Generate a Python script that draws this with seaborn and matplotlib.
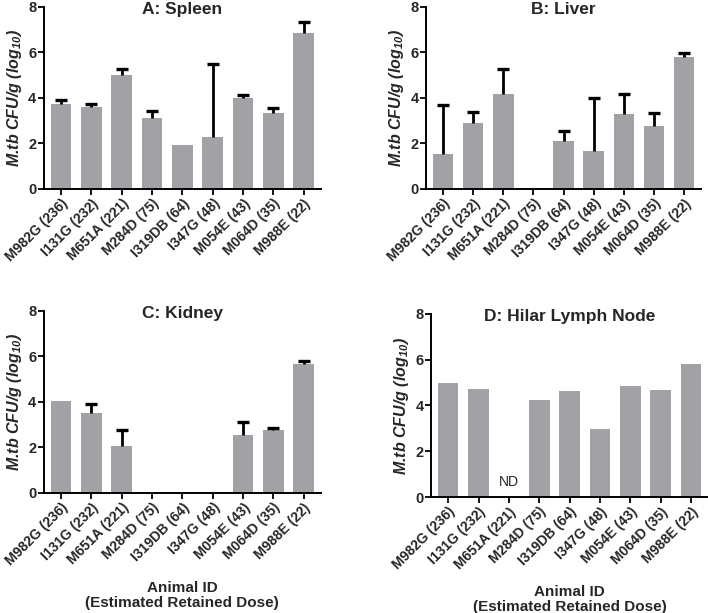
import numpy as np
import pandas as pd
import matplotlib
matplotlib.use("Agg")
import matplotlib.pyplot as plt
import seaborn as sns

# data (log10 CFU/g); nan = not detected / no error bar
animals = ["M982G (236)", "I131G (232)", "M651A (221)", "M284D (75)", "I319DB (64)",
           "I347G (48)", "M054E (43)", "M064D (35)", "M988E (22)"]

spleen = [3.71, 3.60, 5.00, 3.12, 1.92, 2.27, 3.99, 3.33, 6.84]
spleen_err = [3.90, 3.74, 5.26, 3.40, np.nan, 5.49, 4.13, 3.55, 7.31]

liver = [1.51, 2.89, 4.15, np.nan, 2.11, 1.66, 3.28, 2.74, 5.80]
liver_err = [3.68, 3.38, 5.26, np.nan, 2.55, 3.99, 4.15, 3.34, 5.95]

kidney = [4.02, 3.52, 2.04, np.nan, np.nan, np.nan, 2.54, 2.77, 5.65]
kidney_err = [np.nan, 3.90, 2.76, np.nan, np.nan, np.nan, 3.13, 2.84, 5.79]

lymph = [4.98, 4.73, np.nan, 4.23, 4.64, 2.98, 4.85, 4.66, 5.81]
lymph_err = [np.nan] * 9

titles = ["A: Spleen", "B: Liver", "C: Kidney", "D: Hilar Lymph Node"]

sns.set_style("ticks")
plt.rcParams["font.family"] = ["Liberation Sans", "DejaVu Sans"]
plt.rcParams["mathtext.fontset"] = "custom"
plt.rcParams["mathtext.rm"] = "Liberation Sans:italic:bold"
plt.rcParams["mathtext.it"] = "Liberation Sans:italic:bold"
plt.rcParams["mathtext.bf"] = "Liberation Sans:italic:bold"

BAR_COLOR = "#a2a2a6"

fig = plt.figure(figsize=(7.08, 6.13), dpi=100)
# axes boxes [left, bottom, width, height] in figure fraction
boxes = [
    [0.062, 0.692, 0.391, 0.297],
    [0.602, 0.692, 0.388, 0.297],
    [0.062, 0.196, 0.391, 0.297],
    [0.609, 0.189, 0.391, 0.299],
]
panels = [(spleen, spleen_err), (liver, liver_err), (kidney, kidney_err), (lymph, lymph_err)]

for i, ((vals, errs), box, title) in enumerate(zip(panels, boxes, titles)):
    ax = fig.add_axes(box)
    df = pd.DataFrame({"animal": animals, "cfu": vals})
    sns.barplot(data=df, x="animal", y="cfu", order=animals, color=BAR_COLOR,
                saturation=1, width=0.68, errorbar=None, linewidth=0, ax=ax)

    # one-sided (upper) error bars: stem from bar top + cap at the top only
    v = np.array(vals, dtype=float)
    e = np.array(errs, dtype=float)
    pos = np.arange(len(animals))
    ok = ~np.isnan(e)
    if ok.any():
        ax.vlines(pos[ok], v[ok], e[ok], color="black", linewidth=2.0, zorder=3)
        ax.plot(pos[ok], e[ok], linestyle="none", marker="_", markersize=8,
                markeredgewidth=2.4, color="black", zorder=3)

    ax.set_ylim(0, 8)
    ax.set_yticks([0, 2, 4, 6, 8])
    ax.set_xlim(-0.56, 8.56)
    sns.despine(ax=ax)
    for s in ["left", "bottom"]:
        ax.spines[s].set_linewidth(1.4)
        ax.spines[s].set_color("black")
    ax.tick_params(axis="both", width=1.3, color="black", length=4)
    ax.tick_params(axis="y", labelsize=10.5, pad=1.5)
    ax.tick_params(axis="x", labelsize=10, pad=1.5)
    for lab in ax.get_yticklabels():
        lab.set_fontweight("bold")
    ax.set_xticks(pos)
    ax.set_xticklabels(animals, rotation=45, ha="right", rotation_mode="anchor",
                       fontweight="bold")

    ax.set_ylabel(r"M.tb CFU/g (log$_{10}$)", fontsize=11.5, fontweight="bold",
                  fontstyle="italic", labelpad=3)
    if i >= 2:
        ax.set_xlabel("Animal ID\n(Estimated Retained Dose)", fontsize=11,
                      fontweight="bold", linespacing=1.1, labelpad=9)
    else:
        ax.set_xlabel("")
    ax.set_title(title, fontsize=12.5, fontweight="bold", y=1.0, pad=-5)

    if i == 3:
        ax.text(2, 0.65, "ND", ha="center", va="center", fontsize=10)

fig.savefig("out.png", dpi=100)
